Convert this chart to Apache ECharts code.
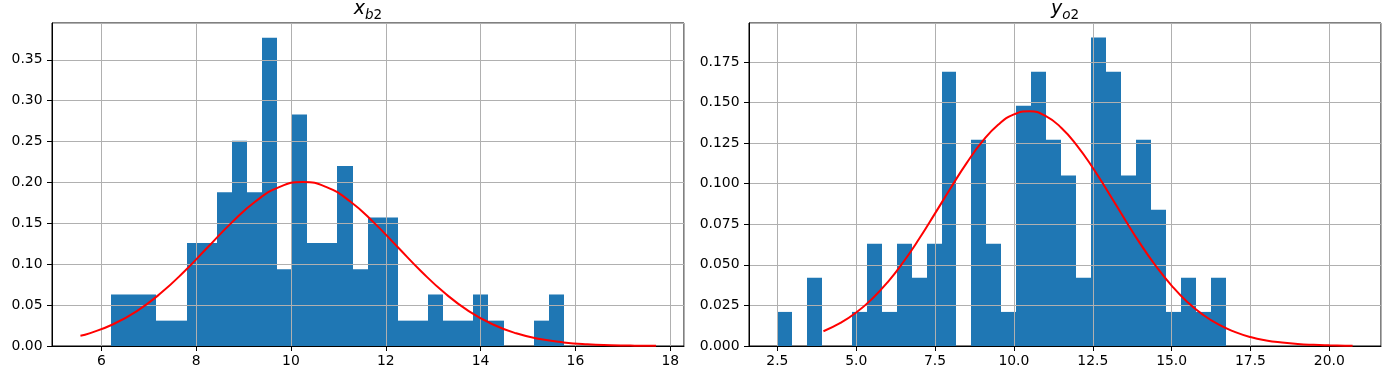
<!DOCTYPE html>
<html>
<head>
<meta charset="utf-8">
<script src="https://cdn.jsdelivr.net/npm/echarts@6/dist/echarts.min.js"></script>
<style>
  html, body { margin: 0; padding: 0; background: #fff; }
  #chart { width: 1386px; height: 376px; }
</style>
</head>
<body>
<div id="chart"></div>
<script>
// histogram of x_b2 (density per bin, 30 bins)
const xbBinStart = 6.205;
const xbBinWidth = 0.3184;
const xbDensity = [0.063, 0.063, 0.063, 0.031, 0.031, 0.126, 0.126, 0.188, 0.251, 0.188,
                   0.377, 0.094, 0.283, 0.126, 0.126, 0.220, 0.094, 0.157, 0.157, 0.031,
                   0.031, 0.063, 0.031, 0.031, 0.063, 0.031, 0, 0, 0.031, 0.063];
// fitted normal curve
const xbCurveX = [5.56, 5.75, 6.25, 6.75, 7.25, 7.75, 8.25, 8.75, 9.25, 9.75, 10.25,
                  10.75, 11.25, 11.75, 12.25, 12.75, 13.25, 13.75, 14.25, 14.75, 15.25,
                  15.75, 16.25, 16.75, 17.25, 17.7];
const xbCurveY = [0.0125, 0.0155, 0.0266, 0.0427, 0.0644, 0.0911, 0.1210, 0.1509, 0.1767, 0.1943,
                  0.2005, 0.1943, 0.1767, 0.1509, 0.1210, 0.0911, 0.0644, 0.0427, 0.0266, 0.0155,
                  0.0085, 0.0044, 0.0021, 0.0010, 0.0004, 0.0002];

// histogram of y_o2
const yoBinStart = 2.49;
const yoBinWidth = 0.474;
const yoDensity = [0.021, 0, 0.042, 0, 0, 0.021, 0.063, 0.021, 0.063, 0.042,
                   0.063, 0.169, 0, 0.127, 0.063, 0.021, 0.148, 0.169, 0.127, 0.105,
                   0.042, 0.190, 0.169, 0.105, 0.127, 0.084, 0.021, 0.042, 0.021, 0.042];
const yoCurveX = [3.96, 4.5, 5, 5.5, 6, 6.5, 7, 7.5, 8, 8.5, 9, 9.5, 10, 10.5, 11, 11.5,
                  12, 12.5, 13, 13.5, 14, 14.5, 15, 15.5, 16, 16.5, 17, 17.5, 18, 18.5,
                  19, 19.5, 20, 20.5, 20.74];
const yoCurveY = [0.0091, 0.0142, 0.0206, 0.0290, 0.0394, 0.0519, 0.0662, 0.0817, 0.0975, 0.1127,
                  0.1260, 0.1363, 0.1427, 0.1446, 0.1418, 0.1345, 0.1235, 0.1098, 0.0944, 0.0786,
                  0.0632, 0.0493, 0.0372, 0.0271, 0.0192, 0.0131, 0.0087, 0.0055, 0.0034, 0.0021,
                  0.0012, 0.0007, 0.0004, 0.0002, 0.0001];

const FONT = "'DejaVu Sans', sans-serif";

function binRows(start, width, dens) {
    return dens.map((d, i) => [start + i * width, start + (i + 1) * width, d]);
}
function pairs(xs, ys) {
    return xs.map((x, i) => [x, ys[i]]);
}

function renderBar(params, api) {
    const h = api.value(2);
    if (!h) return null;
    const p0 = api.coord([api.value(0), h]);
    const p1 = api.coord([api.value(1), 0]);
    const x0 = Math.round(p0[0]), x1 = Math.round(p1[0]);
    return {
        type: 'rect',
        shape: { x: x0, y: p0[1], width: x1 - x0, height: p1[1] - p0[1] },
        style: { fill: '#1f77b4' }
    };
}

function xAxisOpt(idx, min, max, step, digits) {
    return {
        type: 'value', gridIndex: idx, min: min, max: max,
        minInterval: step, maxInterval: step, z: 3,
        axisLine: { show: true, lineStyle: { color: '#000', width: 1 } },
        axisTick: { show: true, length: 5, lineStyle: { color: '#000', width: 1 } },
        axisLabel: {
            color: '#000', fontFamily: FONT, fontSize: 13.9, margin: 8,
            showMinLabel: false, showMaxLabel: false,
            formatter: v => v.toFixed(digits)
        },
        splitLine: { show: true, lineStyle: { color: '#b0b0b0', width: 1 } }
    };
}
function yAxisOpt(idx, max, step, digits) {
    return {
        type: 'value', gridIndex: idx, min: 0, max: max, interval: step, z: 3,
        axisLine: { show: true, lineStyle: { color: '#000', width: 1 } },
        axisTick: { show: true, length: 5, lineStyle: { color: '#000', width: 1 } },
        axisLabel: {
            color: '#000', fontFamily: FONT, fontSize: 13.9, margin: 9.5,
            showMaxLabel: false,
            formatter: v => v.toFixed(digits)
        },
        splitLine: { show: true, lineStyle: { color: '#b0b0b0', width: 1 } }
    };
}

function titleText(x, main, sub) {
    return {
        type: 'text', x: x, y: 0, z: 10,
        style: {
            text: '{i|' + main + '}{s|' + sub + '}{n|2}',
            align: 'center', verticalAlign: 'top',
            rich: {
                i: { fontFamily: FONT, fontStyle: 'italic', fontSize: 19, lineHeight: 22, verticalAlign: 'top', fill: '#000' },
                s: { fontFamily: FONT, fontStyle: 'italic', fontSize: 13.5, lineHeight: 15, verticalAlign: 'bottom', fill: '#000' },
                n: { fontFamily: FONT, fontSize: 13.5, lineHeight: 15, verticalAlign: 'bottom', fill: '#000' }
            }
        }
    };
}

const chart = echarts.init(document.getElementById('chart'));
chart.setOption({
    animation: false,
    grid: [
        { left: 52, right: 702, top: 23, bottom: 30, show: true, borderColor: '#000', borderWidth: 1, outerBoundsMode: 'none' },
        { left: 749, right: 5, top: 23, bottom: 30, show: true, borderColor: '#000', borderWidth: 1, outerBoundsMode: 'none' }
    ],
    xAxis: [
        xAxisOpt(0, 4.96, 18.29, 2, 0),
        xAxisOpt(1, 1.6, 21.64, 2.5, 1)
    ],
    yAxis: [
        yAxisOpt(0, 0.395, 0.05, 2),
        yAxisOpt(1, 0.199, 0.025, 3)
    ],
    graphic: [
        titleText(368, 'x', 'b'),
        titleText(1065, 'y', 'o')
    ],
    series: [
        {
            type: 'custom', xAxisIndex: 0, yAxisIndex: 0, z: 1,
            renderItem: renderBar,
            data: binRows(xbBinStart, xbBinWidth, xbDensity)
        },
        {
            type: 'line', xAxisIndex: 0, yAxisIndex: 0, z: 5,
            smooth: true, showSymbol: false,
            lineStyle: { color: '#ff0000', width: 2 },
            data: pairs(xbCurveX, xbCurveY)
        },
        {
            type: 'custom', xAxisIndex: 1, yAxisIndex: 1, z: 1,
            renderItem: renderBar,
            data: binRows(yoBinStart, yoBinWidth, yoDensity)
        },
        {
            type: 'line', xAxisIndex: 1, yAxisIndex: 1, z: 5,
            smooth: true, showSymbol: false,
            lineStyle: { color: '#ff0000', width: 2 },
            data: pairs(yoCurveX, yoCurveY)
        }
    ]
});
</script>
</body>
</html>
